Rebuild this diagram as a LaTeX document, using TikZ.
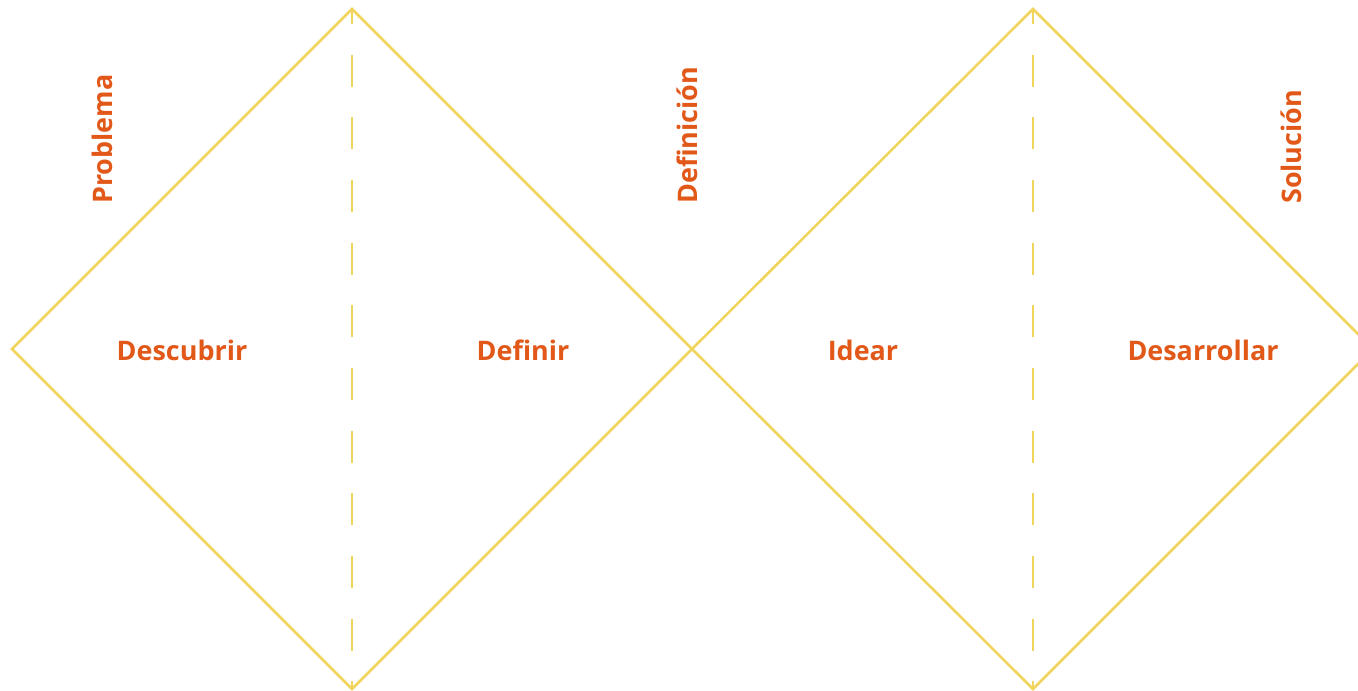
\documentclass[tikz,border=0pt]{standalone}
\usepackage{fontspec}
\setsansfont{Open Sans}
\usetikzlibrary{positioning}
\definecolor{amarillo}{RGB}{240,212,92}
\definecolor{naranja}{RGB}{226,88,24}

\begin{document}
\begin{tikzpicture}[x=0.75pt,y=-0.75pt,
  borde/.style={draw=amarillo, line width=1.9pt, line join=miter},
  guia/.style={draw=amarillo, line width=1.9pt, dash pattern=on 24pt off 23pt, dash phase=12.75pt},
  fase/.style={font=\sffamily\bfseries\fontsize{20.2}{23}\selectfont, text=naranja},
  hito/.style={fase, rotate=90, anchor=west, inner sep=0pt}]
\useasboundingbox (0,0) rectangle (1358,691);
\clip (0,0) rectangle (1358,691);
% vertices del doble diamante
\coordinate (izq) at (12,349);
\coordinate (arr1) at (352,9);
\coordinate (abj1) at (352,689);
\coordinate (centro) at (692,349);
\coordinate (arr2) at (1033,9);
\coordinate (abj2) at (1033,689);
\coordinate (der) at (1373,349);
% diamantes
\draw[borde] (izq) -- (arr1) -- (centro) -- (abj1) -- cycle;
\draw[borde] (centro) -- (arr2) -- (der) -- (abj2) -- cycle;
\draw[guia] (arr1) -- (abj1);
\draw[guia] (arr2) -- (abj2);
% fases
\node[fase] (descubrir) at (182,350) {Descubrir};
\node[fase] (definir) at (523,350) {Definir};
\node[fase] (idear) at (863,350) {Idear};
\node[fase] (desarrollar) at (1203,350) {Desarrollar};
% hitos
\node[hito] (problema) at (102,204) {Problema};
\node[hito] (definicion) at (687,204) {Definición};
\node[hito] (solucion) at (1291,204) {Solución};
\end{tikzpicture}
\end{document}
